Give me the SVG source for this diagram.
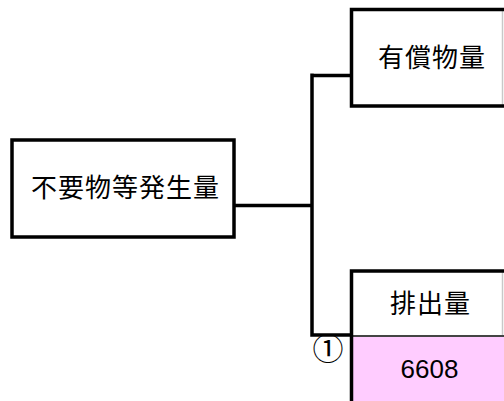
<svg xmlns="http://www.w3.org/2000/svg" width="504" height="401" viewBox="0 0 504 401">
<style>
.b{fill:none;stroke:#000;stroke-width:3.5}
.g{fill:none;stroke:#c8c8c8;stroke-width:1.5}
.c{fill:none;stroke:#000;stroke-width:3.5}
.t{font-family:"Noto Sans CJK JP","Noto Sans CJK SC",sans-serif;font-size:26px;letter-spacing:1px;fill:#000}
.n{font-family:"Liberation Sans",Arial,sans-serif;font-size:26px;fill:#000}
</style>
<rect x="0" y="0" width="504" height="401" fill="#fff"/>
<g id="connectors">
<path class="c" d="M234 205.5H312M312 73.5V336.5M310.25 75.5H351M310.25 335H351"/>
</g>
<g id="node-source">
<rect class="b" x="12" y="140" width="222" height="97" fill="#fff"/>
<text class="t" x="31" y="197">不要物等発生量</text>
</g>
<g id="node-valuable">
<path class="g" d="M502.5 9.5V106"/>
<path class="b" d="M504 9.5H351.5V106H504"/>
<text class="t" x="378" y="66.5">有償物量</text>
</g>
<g id="node-discharge">
<rect x="351.5" y="336" width="153" height="66" fill="#ffccff"/>
<path class="g" d="M502.5 271V335"/>
<path d="M351.5 336H504" stroke="#444" stroke-width="2" fill="none"/>
<path class="b" d="M504 271H351.5V402"/>
<text class="t" x="390" y="312.5">排出量</text>
<text class="n" x="429.5" y="377.5" text-anchor="middle">6608</text>
<text x="328" y="359.5" text-anchor="middle" font-family="Noto Sans CJK JP, sans-serif" font-size="31" fill="#000">①</text>
</g>
</svg>
